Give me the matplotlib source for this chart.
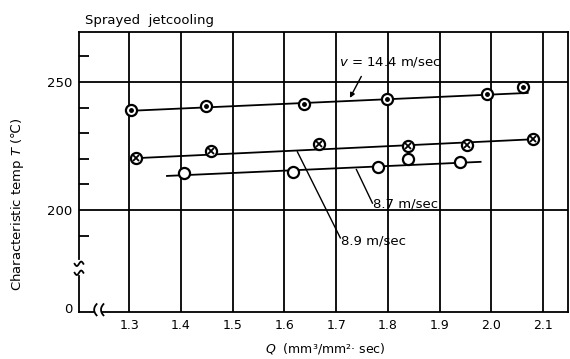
import matplotlib
matplotlib.use("Agg")
import matplotlib.pyplot as plt
import numpy as np

# valeurs
q_144 = [1.304, 1.449, 1.637, 1.799, 1.992, 2.060]
t_144 = [239.1, 240.6, 241.4, 243.4, 245.3, 248.0]
fit_144_q = [1.30, 2.07]
fit_144_t = [238.7, 245.7]

q_89 = [1.314, 1.459, 1.666, 1.838, 1.952, 2.080]
t_89 = [220.3, 223.0, 225.8, 225.0, 225.4, 227.7]
fit_89_q = [1.32, 2.09]
fit_89_t = [220.3, 227.7]

q_87 = [1.406, 1.617, 1.781, 1.838, 1.940]
t_87 = [214.5, 214.8, 216.8, 219.9, 218.7]
fit_87_q = [1.373, 1.979]
fit_87_t = [213.3, 218.8]

x_ticks = [1.3, 1.4, 1.5, 1.6, 1.7, 1.8, 1.9, 2.0, 2.1]
x_labels = ["1.3", "1.4", "1.5", "1.6", "1.7", "1.8", "1.9", "2.0", "2.1"]
# axe coupé : le "0" est placé en bas de l'axe
y_ticks = [161.8, 200, 250]
y_labels = ["0", "200", "250"]
y_minor = [190, 210, 220, 230, 240, 260]

plt.rcParams['font.family'] = ['DejaVu Sans']

fig = plt.figure(figsize=(5.7, 3.59), dpi=100)
ax = fig.add_axes([0.1386, 0.131, 0.858, 0.78])
ax.set_xlim(1.203, 2.148)
ax.set_ylim(160.2, 269.5)

lw = 1.3
for xv in x_ticks:
    ax.axvline(xv, color="black", lw=lw, zorder=1)
for yv in [200, 250]:
    ax.axhline(yv, color="black", lw=lw, zorder=1)

# droites
ax.plot(fit_144_q, fit_144_t, color="black", lw=lw, zorder=2)
ax.plot(fit_89_q, fit_89_t, color="black", lw=lw, zorder=2)
ax.plot(fit_87_q, fit_87_t, color="black", lw=lw, zorder=2)

# points
ax.plot(q_144, t_144, "o", ms=8, mfc="white", mec="black", mew=1.6, zorder=3)
ax.plot(q_144, t_144, "o", ms=2.5, color="black", zorder=4)
ax.plot(q_89, t_89, "o", ms=8, mfc="white", mec="black", mew=1.6, zorder=3)
ax.plot(q_89, t_89, "x", ms=4, color="black", mew=1.3, zorder=4)
ax.plot(q_87, t_87, "o", ms=8, mfc="white", mec="black", mew=1.6, zorder=3)

ax.set_xticks(x_ticks)
ax.set_xticklabels(x_labels, fontsize=9)
ax.set_yticks(y_ticks)
ax.set_yticklabels(y_labels, fontsize=9.5)
ax.tick_params(axis="both", length=0, pad=5)
ax.set_yticks(y_minor, minor=True)
ax.tick_params(axis="y", which="minor", direction="in", length=7, width=lw)

for s in ["top", "right"]:
    ax.spines[s].set_linewidth(lw)
ax.spines["left"].set_visible(False)
ax.spines["bottom"].set_visible(False)

# axe gauche coupé et axe du bas coupé
tr = ax.transAxes
ax.plot([0, 0], [1, 0.19], color="black", lw=lw, transform=tr, clip_on=False)
ax.plot([0, 0], [0.13, 0.0], color="black", lw=lw, transform=tr, clip_on=False)
ax.plot([-0.001, 0.031], [0.0, 0.0], color="black", lw=lw, transform=tr, clip_on=False)
ax.plot([0.048, 1], [0.0, 0.0], color="black", lw=lw, transform=tr, clip_on=False)
for yb in [0.172, 0.140]:
    xs = np.linspace(-0.009, 0.009, 20)
    ax.plot(xs, yb + 0.008 * np.sin(xs / 0.009 * np.pi), color="black", lw=lw,
            transform=tr, clip_on=False)
for xb in [0.031, 0.045]:
    ys = np.linspace(-0.012, 0.028, 20)
    yc = 0.008
    ax.plot(xb + 0.005 * ((ys - yc) / 0.02) ** 2, ys, color="black", lw=lw,
            transform=tr, clip_on=False)

# annotations
ax.annotate("", xy=(1.724, 242.8), xytext=(1.751, 253.1),
            arrowprops=dict(arrowstyle="-|>", color="black", lw=1.0, mutation_scale=7))
ax.text(1.803, 257.6, r"$v$ = 14.4 m/sec", fontsize=9.5, ha="center", va="center")
ax.plot([1.739, 1.770], [215.8, 202.7], color="black", lw=1.0)
ax.text(1.772, 202.2, "8.7 m/sec", fontsize=9.5, ha="left", va="center")
ax.plot([1.625, 1.708], [222.7, 189.1], color="black", lw=1.0)
ax.text(1.710, 187.8, "8.9 m/sec", fontsize=9.5, ha="left", va="center")

fig.text(0.149, 0.943, "Sprayed  jetcooling", fontsize=9.5, ha="left", va="center")
fig.text(0.03, 0.43, r"Characteristic temp $T$ (℃)", fontsize=9.5, rotation=90,
         ha="center", va="center")
fig.text(0.57, 0.03, r"$Q$  (mm³/mm²· sec)", fontsize=9, ha="center", va="center")

fig.savefig("out.png", dpi=100)
